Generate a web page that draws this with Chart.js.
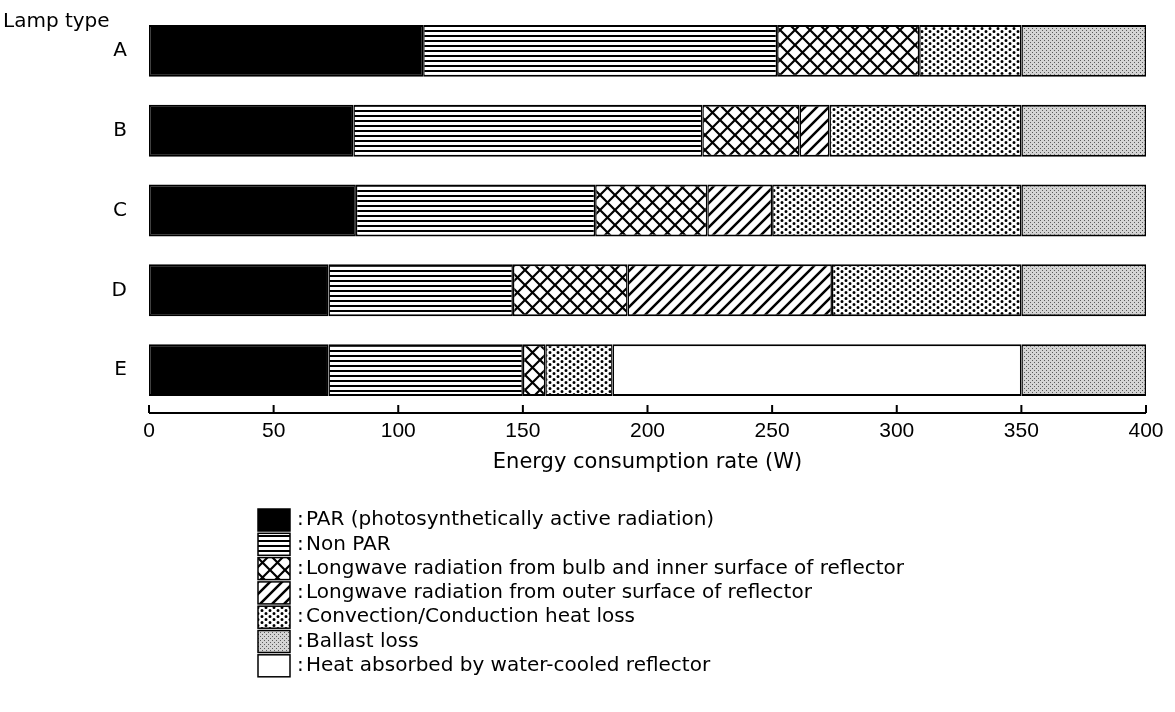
<!DOCTYPE html>
<html>
<head>
<meta charset="utf-8">
<script src="https://cdn.jsdelivr.net/npm/chart.js@4/dist/chart.umd.min.js"></script>
<style>
  html, body { margin: 0; padding: 0; background: #fff; }
</style>
</head>
<body>
<canvas id="myChart" width="1175" height="712"></canvas>
<script>
// data (W per component)
const lampTypes = ['A', 'B', 'C', 'D', 'E'];
const par = [110, 82, 83, 72, 72];
const nonPar = [142, 140, 96, 74, 78];
const longwaveInner = [57, 39, 45, 46, 9];
const longwaveOuter = [0, 12, 26, 82, 0];
const convection = [41, 77, 100, 76, 27];
const waterCooled = [0, 0, 0, 0, 164];
const ballast = [50, 50, 50, 50, 50];
const xTicks = [0, 50, 100, 150, 200, 250, 300, 350, 400];

const legendLabels = [
    'PAR (photosynthetically active radiation)',
    'Non PAR',
    'Longwave radiation from bulb and inner surface of reflector',
    'Longwave radiation from outer surface of reflector',
    'Convection/Conduction heat loss',
    'Ballast loss',
    'Heat absorbed by water-cooled reflector'
];

const canvas = document.getElementById('myChart');
const ctx = canvas.getContext('2d');

// hatch patterns
function makePattern(w, h, paint) {
    const c = document.createElement('canvas');
    c.width = w;
    c.height = h;
    const p = c.getContext('2d');
    p.fillStyle = '#fff';
    p.fillRect(0, 0, w, h);
    p.strokeStyle = '#000';
    p.fillStyle = '#000';
    paint(p, w, h);
    return ctx.createPattern(c, 'repeat');
}

const fills = [
    '#000',
    makePattern(8, 5, (p) => { p.fillRect(0, 0, 8, 2); }),
    makePattern(15, 15, (p) => {
        p.lineWidth = 2.2;
        p.beginPath();
        p.moveTo(-2, -2); p.lineTo(17, 17);
        p.moveTo(17, -2); p.lineTo(-2, 17);
        p.stroke();
    }),
    makePattern(12, 12, (p) => {
        p.lineWidth = 2.5;
        p.beginPath();
        p.moveTo(-2, 14); p.lineTo(14, -2);
        p.moveTo(-8, 8); p.lineTo(8, -8);
        p.moveTo(4, 20); p.lineTo(20, 4);
        p.stroke();
    }),
    makePattern(8, 6, (p) => {
        p.beginPath();
        p.arc(2, 1.5, 1.5, 0, Math.PI * 2);
        p.arc(6, 4.5, 1.5, 0, Math.PI * 2);
        p.fill();
    }),
    makePattern(4, 4, (p) => {
        p.fillStyle = '#d4d4d4';
        p.fillRect(0, 0, 4, 4);
        p.fillStyle = '#5a5a5a';
        p.fillRect(0, 0, 1, 1);
        p.fillRect(2, 2, 1, 1);
    }),
    '#fff'
];

const seriesValues = [par, nonPar, longwaveInner, longwaveOuter, convection, ballast, waterCooled];
// stacking order along the bar: water-cooled sits before ballast
const stackOrder = [0, 1, 2, 3, 4, 6, 5];

const datasets = stackOrder.map(i => ({
    label: legendLabels[i],
    data: seriesValues[i],
    backgroundColor: fills[i],
    borderColor: '#000',
    borderWidth: { top: 2, bottom: 2, left: 1.5, right: 1.5 },
    borderSkipped: false
}));

const extras = {
    id: 'extras',
    afterDraw(chart) {
        const c = chart.ctx;
        const x = chart.scales.x;
        const area = chart.chartArea;
        const axisY = area.bottom + 3;

        c.save();
        c.strokeStyle = '#000';
        c.lineWidth = 2;
        c.beginPath();
        c.moveTo(x.getPixelForValue(0), axisY);
        c.lineTo(x.getPixelForValue(400), axisY);
        xTicks.forEach(v => {
            const px = x.getPixelForValue(v);
            c.moveTo(px, axisY);
            c.lineTo(px, axisY - 8);
        });
        c.stroke();

        c.fillStyle = '#000';
        c.font = '21px "DejaVu Sans"';
        c.textAlign = 'center';
        c.textBaseline = 'middle';
        c.fillText('Energy consumption rate (W)', (x.getPixelForValue(0) + x.getPixelForValue(400)) / 2, 463);

        c.font = '20px "DejaVu Sans"';
        c.textAlign = 'left';
        c.fillText('Lamp type', 3, 22);

        // legend
        legendLabels.forEach((label, i) => {
            const cy = 520 + i * 24.3;
            c.fillStyle = fills[i];
            c.fillRect(258, cy - 11, 32, 22);
            c.lineWidth = 1.5;
            c.strokeStyle = '#000';
            c.strokeRect(258, cy - 11, 32, 22);
            c.fillStyle = '#000';
            c.fillText(':', 297, cy);
            c.fillText(label, 306, cy);
        });
        c.restore();
    }
};

new Chart(ctx, {
    type: 'bar',
    data: { labels: lampTypes, datasets: datasets },
    options: {
        indexAxis: 'y',
        responsive: false,
        animation: false,
        devicePixelRatio: 1,
        layout: { padding: { top: 11, right: 29, left: 0, bottom: 0 } },
        datasets: { bar: { categoryPercentage: 1, barPercentage: 0.65 } },
        plugins: { legend: { display: false }, tooltip: { enabled: false } },
        scales: {
            x: {
                stacked: true,
                min: 0,
                max: 400,
                afterFit: (scale) => { scale.height = 302; },
                afterBuildTicks: (scale) => { scale.ticks = xTicks.map(v => ({ value: v })); },
                grid: { display: false, drawTicks: false },
                border: { display: false },
                ticks: { color: '#000', font: { family: 'Liberation Sans', size: 21 }, padding: 9, maxRotation: 0 }
            },
            y: {
                stacked: true,
                afterFit: (scale) => {
                    scale.width = 149;
                    scale.paddingTop = 0;
                    scale.paddingBottom = 0;
                },
                grid: { display: false, drawTicks: false },
                border: { display: false },
                ticks: { color: '#000', font: { family: 'DejaVu Sans', size: 20 }, padding: 22 }
            }
        }
    },
    plugins: [extras]
});
</script>
</body>
</html>
